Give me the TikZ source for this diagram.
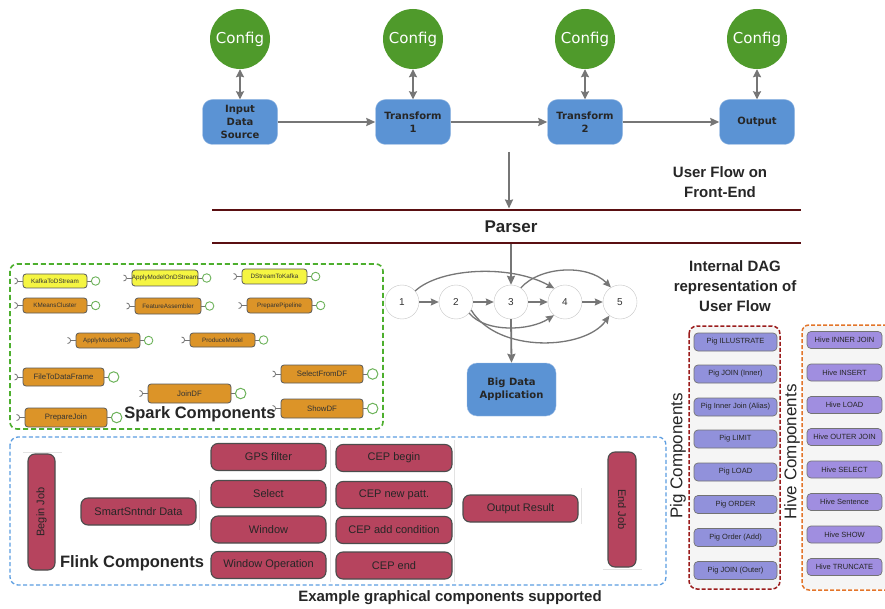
\documentclass[tikz,border=0pt]{standalone}
\usepackage{fontspec}
\setmainfont{Liberation Sans}
\newfontfamily\dejavu{DejaVu Sans}
\usetikzlibrary{arrows.meta}
\definecolor{cfggreen}{HTML}{4F9A2B}
\definecolor{flowblue}{HTML}{5B93D4}
\definecolor{arrgray}{HTML}{767676}
\definecolor{parsermaroon}{HTML}{5A0F12}
\definecolor{spkyellow}{HTML}{F5F542}
\definecolor{spkorange}{HTML}{DC9428}
\definecolor{flinkred}{HTML}{B6445E}
\definecolor{pigblue}{HTML}{9191DB}
\definecolor{hivepurple}{HTML}{A08EE0}
\definecolor{sparkgreen}{HTML}{4DAF2E}
\definecolor{flinkblue}{HTML}{5B9DE1}
\definecolor{pigred}{HTML}{9B1C1C}
\definecolor{hiveorange}{HTML}{E3752A}
\definecolor{lollygreen}{HTML}{6DB35A}
\tikzset{
 cfg/.style={circle, fill=cfggreen, minimum size=60pt, inner sep=0pt, text=white, font=\dejavu\fontsize{15}{15}\selectfont},
 flowbox/.style={rectangle, rounded corners=10pt, fill=flowblue, draw=flowblue!60!white, minimum width=75pt, minimum height=45pt, align=center, font=\dejavu\bfseries\fontsize{10}{13}\selectfont, text=black!85, inner sep=1pt},
 arr/.style={draw=arrgray, line width=1.8pt, -{Stealth[length=9pt,width=8pt,inset=1pt]}},
 darr/.style={draw=arrgray, line width=1.8pt, {Stealth[length=8pt,width=8pt,inset=1pt]}-{Stealth[length=8pt,width=8pt,inset=1pt]}},
 dagarr/.style={draw=arrgray, line width=1.3pt, -{Stealth[length=8pt,width=7pt,inset=1pt]}},
 dagnode/.style={circle, draw=gray!45, fill=white, minimum size=34pt, inner sep=0pt, font=\fontsize{10}{10}\selectfont, text=black!80},
 parserline/.style={draw=parsermaroon, line width=2.8pt},
 spkbox/.style={rectangle, rounded corners=3pt, draw=black!65, line width=0.8pt, inner sep=0pt, text=black!80},
 spksmall/.style={font=\fontsize{6.3}{6.5}\selectfont},
 spkbig/.style={font=\fontsize{7.8}{8}\selectfont},
 lollysmall/.style={circle, draw=lollygreen, fill=white, line width=0.9pt, minimum size=8.5pt, inner sep=0pt},
 lollybig/.style={circle, draw=lollygreen, fill=white, line width=1pt, minimum size=10.5pt, inner sep=0pt},
 spkline/.style={draw=black!55, line width=0.8pt},
 flinkbox/.style={rectangle, rounded corners=7pt, fill=flinkred, draw=black!70, line width=1.1pt, minimum width=115pt, minimum height=27pt, inner sep=0pt, font=\fontsize{11}{11}\selectfont, text=black!85},
 pigbox/.style={rectangle, rounded corners=4pt, fill=pigblue, draw=black!55, line width=0.7pt, minimum width=83pt, minimum height=18pt, inner sep=0pt, font=\fontsize{7.5}{7.5}\selectfont, text=black!85},
 hivebox/.style={rectangle, rounded corners=4pt, fill=hivepurple, draw=black!55, line width=0.7pt, minimum width=75pt, minimum height=17pt, inner sep=0pt, font=\fontsize{7.5}{7.5}\selectfont, text=black!85},
 bigtitle/.style={font=\bfseries\fontsize{16.5}{20}\selectfont, text=black!85, inner sep=0pt},
 midtitle/.style={font=\bfseries\fontsize{15}{20}\selectfont, text=black!85, align=center, inner sep=0pt},
 sidetitle/.style={font=\fontsize{17}{17}\selectfont, text=black!85, inner sep=0pt, rotate=90},
 faint/.style={draw=gray!22, line width=1pt}
}
\newcommand\spk[8]{%
 \node[spkbox, spk#7, fill=#6, minimum width=#4pt, minimum height=#5pt] (#1) at (#2,#3) {#8};
 \draw[spkline] (#1.east) -- ++(3.5pt,0pt) node[lolly#7, anchor=west] (#1L) {};
 \draw[spkline] (#1.west) -- ++(-5pt,0pt) coordinate (#1S);
 \draw[spkline] ([shift={(-3pt,3pt)}]#1S) arc[start angle=90, end angle=-90, radius=3pt];
}
\begin{document}
\begin{tikzpicture}[x=1pt,y=-1pt]
\useasboundingbox[fill=white] (0,0) rectangle (885,609);

% ---------- top user flow ----------
\node[cfg] (c1) at (240,39) {Config};
\node[cfg] (c2) at (413,39) {Config};
\node[cfg] (c3) at (585,39) {Config};
\node[cfg] (c4) at (757,39) {Config};
\node[flowbox] (b1) at (240,122) {Input\\Data\\Source};
\node[flowbox] (b2) at (413,122) {Transform\\1};
\node[flowbox] (b3) at (585,122) {Transform\\2};
\node[flowbox] (b4) at (757,122) {Output};
\draw[darr] (c1) -- (b1);
\draw[darr] (c2) -- (b2);
\draw[darr] (c3) -- (b3);
\draw[darr] (c4) -- (b4);
\draw[arr] (b1) -- (b2);
\draw[arr] (b2) -- (b3);
\draw[arr] (b3) -- (b4);
\node[midtitle] (uflow) at (720,182) {User Flow on\\Front-End};

% ---------- parser ----------
\coordinate (l1a) at (212,210);
\coordinate (l1b) at (801,210);
\coordinate (l2a) at (212,243);
\coordinate (l2b) at (801,243);
\draw[parserline] (l1a) -- (l1b);
\draw[parserline] (l2a) -- (l2b);
\node[font=\bfseries\fontsize{17}{17}\selectfont, text=black!85] (parser) at (511,226.5) {Parser};
\coordinate (ptop) at (509,152);
\coordinate (pin) at (509,208.5);
\draw[arr] (ptop) -- (pin);

% ---------- DAG ----------
\node[dagnode] (n1) at (402,302) {1};
\node[dagnode] (n2) at (456,302) {2};
\node[dagnode] (n3) at (511,302) {3};
\node[dagnode] (n4) at (565,302) {4};
\node[dagnode] (n5) at (620,302) {5};
\coordinate (pout) at (511,244.5);
\draw[arr] (pout) -- (n3.north);
\draw[dagarr] (n1) -- (n2);
\draw[dagarr] (n2) -- (n3);
\draw[dagarr] (n3) -- (n4);
\draw[dagarr] (n4) -- (n5);
\draw[dagarr] (n1.40) .. controls (440,268) and (510,264) .. (n4.128);
\draw[dagarr] (n3.55) .. controls (540,266) and (588,264) .. (n5.122);
\draw[dagarr] (n2.-40) .. controls (485,333) and (530,331) .. (n4.-130);
\draw[dagarr] (n2.-28) .. controls (498,354) and (585,350) .. (n5.-128);
\node[flowbox, minimum width=89pt, minimum height=53pt] (bda) at (511.5,389.5) {Big Data\\Application};
\draw[arr] (n3.south) -- (bda.north);
\node[midtitle] (dagtitle) at (735,286) {Internal DAG\\representation of\\User Flow};

% ---------- frames ----------
\draw[sparkgreen, line width=1.6pt, dash pattern=on 5pt off 3pt, rounded corners=7pt, fill=white] (10,264) rectangle (383,429);
\draw[flinkblue, line width=1.3pt, dash pattern=on 4pt off 2.5pt, rounded corners=8pt] (10,437) rectangle (666,585);
\draw[pigred, line width=1.5pt, dash pattern=on 4pt off 2pt, rounded corners=8pt, fill=gray!8] (689,326) rectangle (780,589);
\fill[gray!8] (803,326) rectangle (885,589);
\draw[hiveorange, line width=1.5pt, dash pattern=on 4pt off 2pt, rounded corners=7pt] (887,325) -- (802,325) -- (802,590) -- (887,590);

% ---------- Spark ----------
\spk{k1}{55}{281}{64}{14}{spkyellow}{small}{KafkaToDStream}
\spk{k2}{165}{278}{64}{16}{spkyellow}{small}{ApplyModelOnDStream}
\spk{k3}{274.5}{276.5}{65}{15}{spkyellow}{small}{DStreamToKafka}
\spk{k4}{55}{305.5}{64}{15}{spkorange}{small}{KMeansCluster}
\spk{k5}{168}{306}{66}{16}{spkorange}{small}{FeatureAssembler}
\spk{k6}{279.5}{305.5}{65}{15}{spkorange}{small}{PreparePipeline}
\spk{k7}{108}{340.5}{64}{15}{spkorange}{small}{ApplyModelOnDF}
\spk{k8}{222.5}{340}{65}{14}{spkorange}{small}{ProduceModel}
\spk{k9}{63.5}{377}{81}{18}{spkorange}{big}{FileToDataFrame}
\spk{k10}{189.5}{393.5}{83}{19}{spkorange}{big}{JoinDF}
\spk{k11}{66}{417.5}{82}{19}{spkorange}{big}{PrepareJoin}
\spk{k12}{322}{374}{82}{18}{spkorange}{big}{SelectFromDF}
\spk{k13}{322}{408.5}{82}{19}{spkorange}{big}{ShowDF}
\node[bigtitle] (sparkt) at (200,414) {Spark Components};

% ---------- Flink ----------
\coordinate (fa1) at (23,452); \coordinate (fa2) at (62,452);
\coordinate (fb1) at (199,490); \coordinate (fb2) at (199,530);
\coordinate (fc1) at (330,440); \coordinate (fc2) at (330,582);
\coordinate (fd1) at (454,440); \coordinate (fd2) at (454,582);
\coordinate (fe1) at (581,488); \coordinate (fe2) at (581,524);
\coordinate (ff1) at (603,569); \coordinate (ff2) at (642,569);
\draw[faint] (fa1) -- (fa2);
\draw[faint] (fb1) -- (fb2);
\draw[faint] (fc1) -- (fc2);
\draw[faint] (fd1) -- (fd2);
\draw[faint] (fe1) -- (fe2);
\draw[faint] (ff1) -- (ff2);
\node[flinkbox, rotate=90, minimum width=116pt, minimum height=27pt] (bjob) at (41.5,512) {Begin Job};
\node[flinkbox] (smart) at (138.5,511.5) {SmartSntndr Data};
\node[flinkbox] (gps) at (268.5,457) {GPS filter};
\node[flinkbox] (sel) at (268.5,494) {Select};
\node[flinkbox] (win) at (268.5,529.5) {Window};
\node[flinkbox] (winop) at (268.5,565) {Window Operation};
\node[flinkbox, minimum width=116pt] (cep1) at (394,458) {CEP begin};
\node[flinkbox, minimum width=116pt] (cep2) at (394,495) {CEP new patt.};
\node[flinkbox, minimum width=116pt] (cep3) at (394,530) {CEP add condition};
\node[flinkbox, minimum width=116pt] (cep4) at (394,565.5) {CEP end};
\node[flinkbox] (outres) at (520.5,508.5) {Output Result};
\node[flinkbox, rotate=-90, minimum width=115pt, minimum height=28pt] (ejob) at (622,509.5) {End Job};
\node[bigtitle] (flinkt) at (132,563) {Flink Components};
\node[midtitle] (example) at (450,598) {Example graphical components supported};

% ---------- Pig ----------
\node[pigbox] (p1) at (735.5,342) {Pig ILLUSTRATE};
\node[pigbox] (p2) at (735.5,374) {Pig JOIN (Inner)};
\node[pigbox] (p3) at (735.5,407) {Pig Inner Join (Alias)};
\node[pigbox] (p4) at (735.5,439) {Pig LIMIT};
\node[pigbox] (p5) at (735.5,472) {Pig LOAD};
\node[pigbox] (p6) at (735.5,504.5) {Pig ORDER};
\node[pigbox] (p7) at (735.5,537.5) {Pig Order (Add)};
\node[pigbox] (p8) at (735.5,570.5) {Pig JOIN (Outer)};
\node[sidetitle] (pigt) at (678,456) {Pig Components};

% ---------- Hive ----------
\node[hivebox] (h1) at (844.5,340) {Hive INNER JOIN};
\node[hivebox] (h2) at (844.5,372.5) {Hive INSERT};
\node[hivebox] (h3) at (844.5,405) {Hive LOAD};
\node[hivebox] (h4) at (844.5,437) {Hive OUTER JOIN};
\node[hivebox] (h5) at (844.5,469.5) {Hive SELECT};
\node[hivebox] (h6) at (844.5,502) {Hive Sentence};
\node[hivebox] (h7) at (844.5,534.5) {Hive SHOW};
\node[hivebox] (h8) at (844.5,567) {Hive TRUNCATE};
\node[sidetitle] (hivet) at (792,452) {Hive Components};
\end{tikzpicture}
\end{document}
